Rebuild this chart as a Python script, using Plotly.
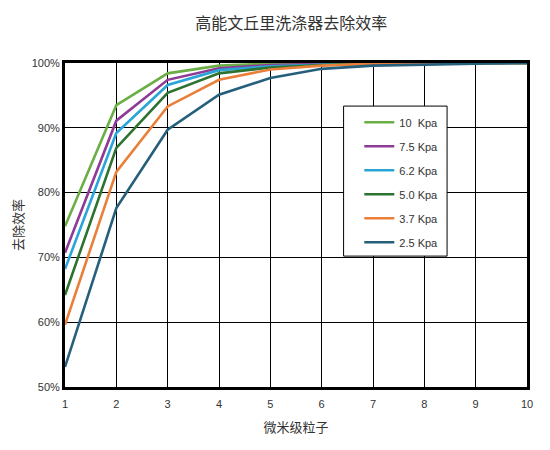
import plotly.graph_objects as go

# particle size (micron) on x
size_um = [1, 2, 3, 4, 5, 6, 7, 8, 9, 10]

# removal efficiency (%) per pressure drop
eff_10 = [74.8, 93.5, 98.4, 99.6, 99.9, 100, 100, 100, 100, 100]
eff_75 = [70.7, 91.1, 97.4, 99.2, 99.7, 99.9, 100, 100, 100, 100]
eff_62 = [68.2, 89.2, 96.6, 98.9, 99.5, 99.8, 100, 100, 100, 100]
eff_50 = [64.2, 86.9, 95.4, 98.4, 99.3, 99.7, 99.9, 100, 100, 100]
eff_37 = [59.6, 83.2, 93.3, 97.4, 99.0, 99.6, 99.9, 100, 100, 100]
eff_25 = [53.1, 77.6, 89.7, 95.1, 97.7, 99.1, 99.6, 99.8, 99.9, 100]

names = ["10  Kpa", "7.5 Kpa", "6.2 Kpa", "5.0 Kpa", "3.7 Kpa", "2.5 Kpa"]
series = [eff_10, eff_75, eff_62, eff_50, eff_37, eff_25]
colors = ["#6aae45", "#8e3a96", "#2aa5d8", "#2d7330", "#ea7f3a", "#265f7c"]

fig = go.Figure()
for i, (nm, ys, c) in enumerate(zip(names, series, colors)):
    fig.add_trace(go.Scatter(x=size_um, y=[v / 100 for v in ys], mode="lines",
                             name=nm, legendgroup=str(i),
                             line=dict(color=c, width=2.6)))

# legend frame drawn as a shape so the entries can sit with a wide left padding
fig.add_shape(type="rect", xref="paper", yref="paper",
              x0=0.603, x1=0.827, y0=0.404, y1=0.867,
              line=dict(color="black", width=1), fillcolor="white", layer="above")

fig.update_layout(
    width=550, height=450,
    margin=dict(l=57, r=31, t=55, b=71),
    paper_bgcolor="white", plot_bgcolor="white",
    font=dict(family="Liberation Sans, Arial", size=11, color="#333"),
    title=dict(text="高能文丘里洗涤器去除效率", x=0.515, xanchor="center", y=0.978,
               font=dict(family="Noto Sans CJK SC", size=16, color="#333")),
    showlegend=True,
    legend=dict(x=0.637, y=0.862, xanchor="left", yanchor="top",
                borderwidth=0, bgcolor="rgba(0,0,0,0)",
                tracegroupgap=5, font=dict(size=11, color="#333"),
                itemwidth=30),
)
fig.update_xaxes(range=[1, 10], dtick=1, showgrid=True, gridcolor="black", gridwidth=1,
                 showline=True, linecolor="black", linewidth=3, mirror=True,
                 ticks="", zeroline=False, automargin=False, ticklabelstandoff=5,
                 title=dict(text="微米级粒子", font=dict(family="Noto Sans CJK SC", size=13, color="#333"),
                            standoff=14))
fig.update_yaxes(range=[0.5, 1.0], dtick=0.1, tickformat=".0%", showgrid=True,
                 gridcolor="black", gridwidth=1,
                 showline=True, linecolor="black", linewidth=3, mirror=True,
                 ticks="", zeroline=False, automargin=False,
                 title=dict(text="去除效率", font=dict(family="Noto Sans CJK SC", size=13, color="#333"),
                            standoff=8))

fig.write_html("out.html")
